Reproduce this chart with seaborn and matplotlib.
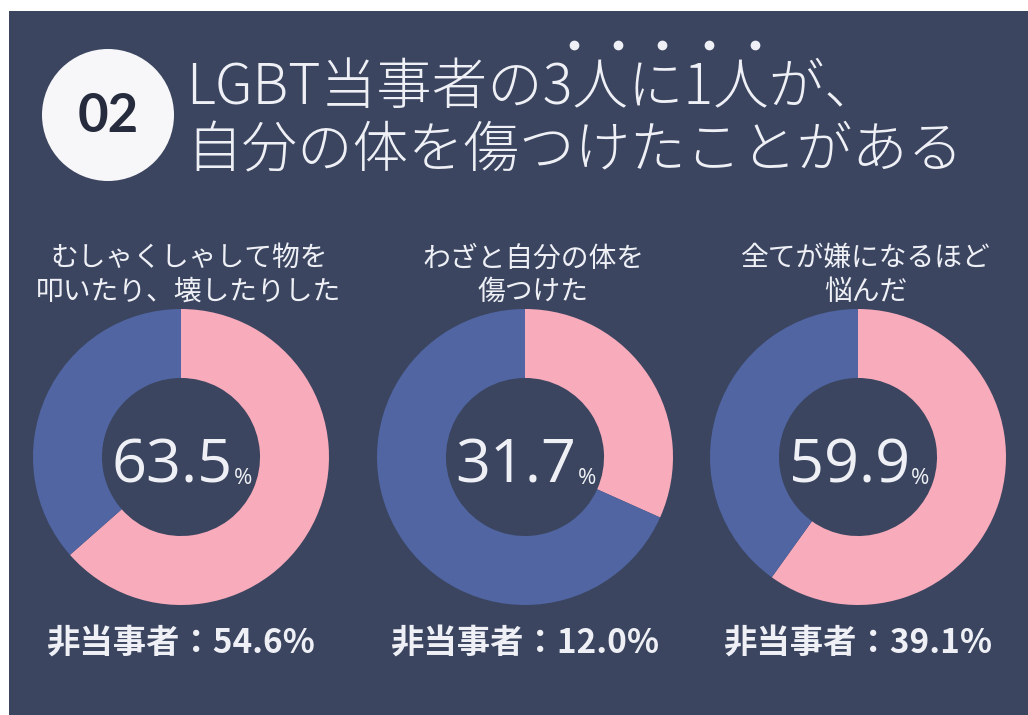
import matplotlib
matplotlib.use("Agg")
import matplotlib.pyplot as plt
import seaborn as sns
from matplotlib.patches import Rectangle, Circle

# %%

badge = "02"
title_line1 = "LGBT当事者の3人に1人が、"
title_line2 = "自分の体を傷つけたことがある"
questions = ["むしゃくしゃして物を\n叩いたり、壊したりした",
             "わざと自分の体を\n傷つけた",
             "全てが嫌になるほど\n悩んだ"]
lgbt_pct = [63.5, 31.7, 59.9]
non_lgbt_pct = [54.6, 12.0, 39.1]
non_lgbt_label = "非当事者："

# %%

sns.set_theme(style="white")
plt.rcParams['font.family'] = ['Noto Sans CJK JP', 'DejaVu Sans']

bg = "#3b4560"
pink = "#f8abba"
blue = "#5065a1"
txt = "#eef0f5"
palette = sns.color_palette([pink, blue])

W, H = 1028, 715
fig = plt.figure(figsize=(W / 100, H / 100), dpi=100, facecolor="white")

base = fig.add_axes([0, 0, 1, 1])
base.set_xlim(0, W)
base.set_ylim(H, 0)
base.axis("off")
base.add_patch(Rectangle((9, 11), W - 9, H - 11, color=bg, lw=0))

# header
base.add_patch(Circle((108, 115), 66, color="#f7f7f9", lw=0))
base.text(108, 117, badge, ha="center", va="center", fontsize=38,
          fontweight="bold", color="#262c3e", family=["Lato", "DejaVu Sans"])
base.text(186, 88, title_line1, ha="left", va="center", fontsize=40,
          color=txt, fontweight="light")
base.text(186, 151, title_line2, ha="left", va="center", fontsize=40,
          color=txt, fontweight="light")
# emphasis dots over 3人に1人
base.plot([574, 618, 662, 709, 755], [45] * 5, "o", ms=6, color=txt, lw=0)

# %%

centers = [181, 525, 858]
cy, R = 457, 148

for cx, q, v, nv in zip(centers, questions, lgbt_pct, non_lgbt_pct):
    ax = fig.add_axes([(cx - R) / W, (H - cy - R) / H, 2 * R / W, 2 * R / H])
    ax.pie([v, 100 - v], colors=palette, startangle=90, counterclock=False,
           wedgeprops=dict(width=0.466, linewidth=0))
    ax.set_xlim(-1, 1)
    ax.set_ylim(-1, 1)
    ax.axis("off")
    t = ax.text(-0.06, -0.17, f"{v:.1f}", ha="center", va="baseline",
                fontsize=44, color=txt, family=["Open Sans", "DejaVu Sans"])
    ax.annotate("%", xy=(1, 0.2), xycoords=t, xytext=(1, 0),
                textcoords="offset points", ha="left", va="baseline",
                fontsize=16, color=txt, family=["Open Sans", "DejaVu Sans"])

    base.text(cx + 8, 275, q, ha="center", va="center", fontsize=20,
              color=txt, linespacing=1.15)
    base.text(cx, 643, f"{non_lgbt_label}{nv:.1f}%", ha="center", va="center",
              fontsize=24, fontweight="bold", color=txt)

fig.savefig("out.png", dpi=100, facecolor=fig.get_facecolor())
